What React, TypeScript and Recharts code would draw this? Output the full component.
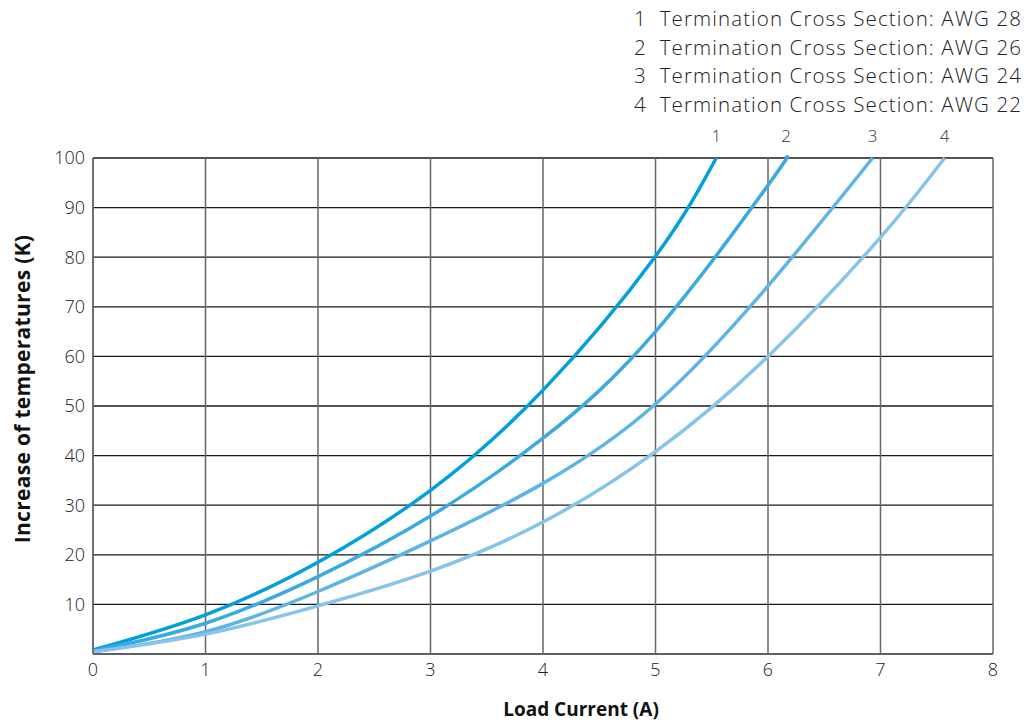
import React from "react";
import { LineChart, Line, XAxis, YAxis, CartesianGrid, Label } from "recharts";

const xTicks = [0, 1, 2, 3, 4, 5, 6, 7, 8];
const yTicks = [10, 20, 30, 40, 50, 60, 70, 80, 90, 100];

const awg28 = [
  { x: 0, y: 0.8 }, { x: 1, y: 7.9 }, { x: 2, y: 18.5 }, { x: 3, y: 33 }, { x: 4, y: 53.2 },
  { x: 5, y: 80.2 }, { x: 5.54, y: 100 },
];
const awg26 = [
  { x: 0, y: 0.6 }, { x: 1, y: 6.2 }, { x: 2, y: 15.6 }, { x: 3, y: 27.8 }, { x: 4, y: 43.5 },
  { x: 5, y: 65 }, { x: 6, y: 94.5 }, { x: 6.16, y: 100 },
];
const awg24 = [
  { x: 0, y: 0.5 }, { x: 1, y: 4.5 }, { x: 2, y: 12.6 }, { x: 3, y: 22.8 }, { x: 4, y: 34.4 },
  { x: 5, y: 50.4 }, { x: 6, y: 74.2 }, { x: 6.93, y: 100 },
];
const awg22 = [
  { x: 0, y: 0.4 }, { x: 1, y: 4.0 }, { x: 2, y: 9.7 }, { x: 3, y: 16.7 }, { x: 4, y: 26.6 },
  { x: 5, y: 40.8 }, { x: 6, y: 60 }, { x: 7, y: 84 }, { x: 7.57, y: 100 },
];

const seriesNames = ["1", "2", "3", "4"];
const legendTexts = [
  "Termination Cross Section: AWG 28",
  "Termination Cross Section: AWG 26",
  "Termination Cross Section: AWG 24",
  "Termination Cross Section: AWG 22",
];
const colors = ["#00a0dc", "#3aaae0", "#5db4e5", "#86c4ea"];
const series = [awg28, awg26, awg24, awg22];

const FONT = "'Open Sans', sans-serif";

const makeEndLabel = (name: string, count: number) => (props: any) => {
  const { x, y, index } = props;
  if (index !== count - 1) return null;
  return (
    <text x={x} y={y - 16} textAnchor="middle" fontFamily={FONT} fontSize={17} fill="#333" stroke="none" fontWeight={300}>
      {name}
    </text>
  );
};

export default function App() {
  return (
    <div style={{ position: "relative", width: 1013, height: 720 }}>
      <LineChart width={1013} height={720} margin={{ top: 150, right: 28, bottom: 0, left: 0 }} style={{ fontFamily: FONT }}>
        <CartesianGrid vertical={false} stroke="#1a1a1a" strokeWidth={1.3} />
        <CartesianGrid horizontal={false} stroke="#666" strokeWidth={1.5} />
        <XAxis
          type="number"
          dataKey="x"
          domain={[0, 8]}
          ticks={xTicks}
          tickLine={false}
          tickMargin={3}
          axisLine={{ stroke: "#666", strokeWidth: 1.5 }}
          height={74}
          tick={{ fill: "#222", fontSize: 18, fontWeight: 300, fontFamily: FONT }}
          allowDuplicatedCategory={false}
        >
          <Label
            content={(props: any) => {
              const vb = props.viewBox;
              const cx = vb.x + vb.width / 2 + 38;
              const cy = vb.y + vb.height - 12;
              return (
                <text x={cx} y={cy} textAnchor="middle" fill="#111" fontSize={19} fontWeight={700} fontFamily={FONT}>
                  Load Current (A)
                </text>
              );
            }}
          />
        </XAxis>
        <YAxis
          type="number"
          domain={[0, 100]}
          ticks={yTicks}
          tickLine={false}
          axisLine={{ stroke: "#666", strokeWidth: 1.5 }}
          width={85}
          tick={{ fill: "#222", fontSize: 18, fontWeight: 300, fontFamily: FONT }}
        >
          <Label
            content={(props: any) => {
              const vb = props.viewBox;
              const cx = vb.x + 14;
              const cy = vb.y + vb.height / 2 - 17;
              return (
                <text x={cx} y={cy} transform={`rotate(-90 ${cx} ${cy})`} textAnchor="middle" dominantBaseline="central" fill="#111" fontSize={21} letterSpacing={0.3} fontWeight={700} fontFamily={FONT}>
                  Increase of temperatures (K)
                </text>
              );
            }}
          />
        </YAxis>
        {series.map((d, i) => (
          <Line
            key={i}
            data={d}
            dataKey="y"
            name={legendTexts[i]}
            type="natural"
            stroke={colors[i]}
            strokeWidth={3.5}
            dot={false}
            activeDot={false}
            isAnimationActive={false}
            label={makeEndLabel(seriesNames[i], d.length)}
          />
        ))}
      </LineChart>
      <div
        style={{
          position: "absolute",
          top: -4,
          right: -1,
          fontFamily: FONT,
          fontSize: 20.5,
          letterSpacing: "1.1px",
          fontWeight: 300,
          color: "#222",
          lineHeight: "28.5px",
          textAlign: "left",
        }}
      >
        {legendTexts.map((t, i) => (
          <div key={i} style={{ whiteSpace: "pre" }}>{seriesNames[i] + "  " + t}</div>
        ))}
      </div>
    </div>
  );
}
